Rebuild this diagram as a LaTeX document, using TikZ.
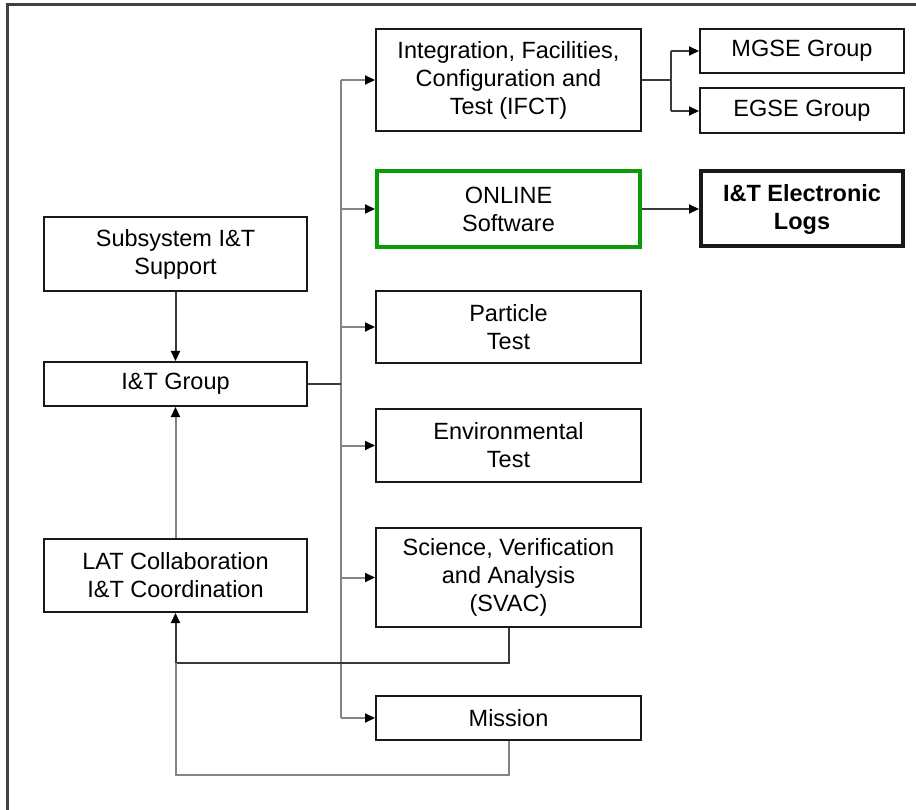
\documentclass[tikz,border=0pt]{standalone}
\usepackage{fontspec}
\setmainfont{Liberation Sans}
\usetikzlibrary{arrows.meta}
\definecolor{linegray}{HTML}{858585}
\definecolor{darkline}{HTML}{3A3A3A}
\definecolor{boxgreen}{HTML}{0A9A0A}
\begin{document}
\begin{tikzpicture}[x=1pt,y=-1pt,
  box/.style={draw=black!90, line width=2pt, rectangle, align=center, inner sep=0pt,
    font=\fontsize{23.5}{28}\selectfont},
  tip/.style={-{Triangle[length=10pt,width=9pt,color=black]}},
  conn/.style={draw=linegray, line width=2pt},
  dconn/.style={draw=darkline, line width=2pt}]
\useasboundingbox (0,0) rectangle (916,810);
% frame
\draw[line width=2.5pt, draw=black!75] (7.5,812) -- (7.5,4.5) -- (918,4.5);

% right column
\node[box, minimum width=265pt, minimum height=102pt] (ifct) at (508.5,80) {Integration, Facilities,\\Configuration and\\Test (IFCT)};
\node[box, minimum width=204pt, minimum height=44pt] (mgse) at (802,51) {MGSE Group};
\node[box, minimum width=204pt, minimum height=45pt] (egse) at (802,111) {EGSE Group};
\node[box, draw=boxgreen, line width=4pt, minimum width=263pt, minimum height=76pt] (online) at (508.5,209) {ONLINE\\Software};
\node[box, line width=4pt, minimum width=202pt, minimum height=75pt, font=\fontsize{23.5}{28}\selectfont\bfseries] (logs) at (802,209) {I\&T Electronic\\Logs};
\node[box, minimum width=265pt, minimum height=72pt] (particle) at (508.5,327) {Particle\\Test};
\node[box, minimum width=265pt, minimum height=73pt] (env) at (508.5,445.5) {Environmental\\Test};
\node[box, minimum width=265pt, minimum height=99pt] (svac) at (508.5,577.5) {Science, Verification\\and Analysis\\(SVAC)};
\node[box, minimum width=265pt, minimum height=44pt] (mission) at (508.5,718) {Mission};

% left column
\node[box, minimum width=263pt, minimum height=74pt] (sub) at (175.5,254) {Subsystem I\&T\\Support};
\node[box, minimum width=263pt, minimum height=44pt] (grp) at (175.5,384) {I\&T Group};
\node[box, minimum width=263pt, minimum height=73pt] (lat) at (175.5,575.5) {LAT Collaboration\\I\&T Coordination};

% distribution bus
\coordinate (bus) at (341,0);
\coordinate (fork) at (671,0);
\coordinate (ret1) at (0,663);
\coordinate (ret2) at (0,775);

\draw[conn] (bus |- ifct.west) -- (bus |- mission.west);
\draw[dconn, line width=2.5pt] (grp.east) -- (bus |- grp.east);
\foreach \n in {ifct, online, particle, env, svac, mission}
  \draw[conn, tip] (bus |- \n.west) -- (\n.west);

% IFCT sub-groups
\draw[dconn] (ifct.east) -- (fork |- ifct.east);
\draw[dconn] (fork |- mgse.west) -- (fork |- egse.west);
\draw[dconn, tip] (fork |- mgse.west) -- (mgse.west);
\draw[dconn, tip] (fork |- egse.west) -- (egse.west);

\draw[dconn, tip] (online.east) -- (logs.west);

% left column links
\draw[dconn, tip] (sub.south) -- (grp.north);
\draw[conn, tip] (lat.north) -- (grp.south);

% feedback lines
\draw[dconn, tip] (svac.south) |- (lat.south |- ret1) -- (lat.south);
\draw[conn] (mission.south) |- (lat.south |- ret2) -- (lat.south |- ret1);
\end{tikzpicture}
\end{document}
